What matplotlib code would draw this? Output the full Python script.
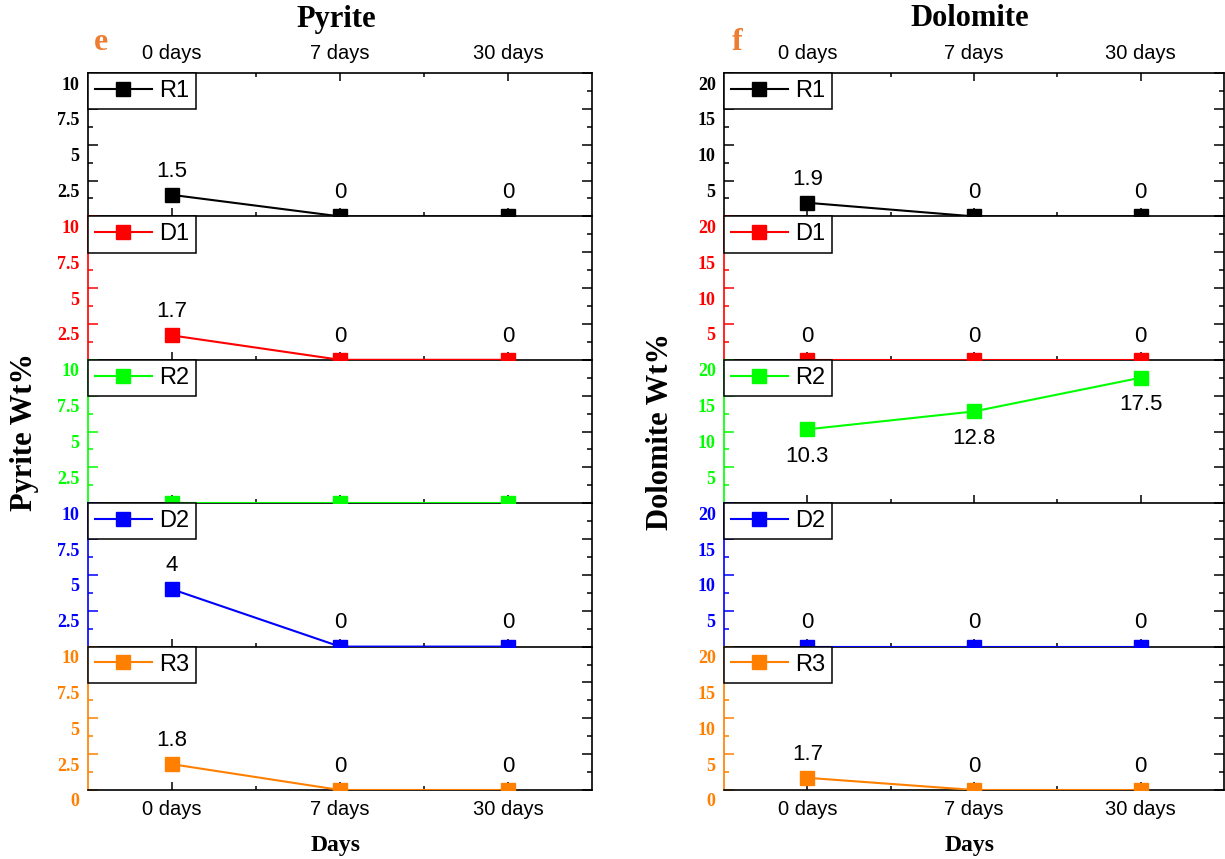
import numpy as np
import matplotlib
matplotlib.use('Agg')
import matplotlib.pyplot as plt
from matplotlib.ticker import FixedLocator, FuncFormatter
from matplotlib.transforms import ScaledTranslation

# ---------------- data ----------------
days = ['0 days', '7 days', '30 days']
series_names = ['R1', 'D1', 'R2', 'D2', 'R3']
series_colors = ['#000000', '#FF0000', '#00FF00', '#0000FF', '#FF8000']

pyrite_R1 = [1.5, 0, 0]
pyrite_D1 = [1.7, 0, 0]
pyrite_R2 = [0, 0, 0]
pyrite_D2 = [4, 0, 0]
pyrite_R3 = [1.8, 0, 0]

dolomite_R1 = [1.9, 0, 0]
dolomite_D1 = [0, 0, 0]
dolomite_R2 = [10.3, 12.8, 17.5]
dolomite_D2 = [0, 0, 0]
dolomite_R3 = [1.7, 0, 0]

pyrite_ticks = [0, 2.5, 5, 7.5, 10]
dolomite_ticks = [0, 5, 10, 15, 20]

# value-label placement per series (style)
pyrite_label_pos = ['above', 'above', None, 'above', 'above']
dolomite_label_pos = ['above', 'above', 'below', 'above', 'above']

# ---------------- style ----------------
W, H = 1225, 859
SERIF = 'Liberation Serif'
SANS = 'Liberation Sans'
LETTER_COLOR = '#ED7D31'

fig = plt.figure(figsize=(W / 100, H / 100), dpi=100)
fig.patch.set_facecolor('white')


def fx(px):
    return px / W


def fy(py):
    return 1 - py / H


def fmt_val(v):
    return f'{v:g}'


def draw_panel(x0, x1, series, yticks, title, letter, ylabel, label_pos):
    top, bottom = 73, 790
    rh = (bottom - top) / len(series)
    x = np.arange(len(days))
    ymax = yticks[-1]
    ystep = yticks[1] - yticks[0]
    minor = list(np.arange(ystep / 2, ymax, ystep))
    off = ScaledTranslation(0, -10 / 100, fig.dpi_scale_trans)
    n = len(series)
    for i, (vals, name, c, lp) in enumerate(zip(series, series_names, series_colors, label_pos)):
        yt = top + i * rh
        ax = fig.add_axes([fx(x0), fy(yt + rh), fx(x1 - x0), rh / H])
        ax.set_facecolor('none')
        ax.plot(x, vals, color=c, lw=1.5, marker='s', ms=10, mfc=c, mec=c,
                zorder=3, label=name)
        ax.set_xlim(-0.5, 2.5)
        ax.set_ylim(0, ymax)
        ax.xaxis.set_major_locator(FixedLocator(list(x)))
        ax.xaxis.set_minor_locator(FixedLocator([0.5, 1.5]))
        ax.set_xticklabels(days)
        ax.yaxis.set_major_locator(FixedLocator(yticks))
        ax.yaxis.set_minor_locator(FixedLocator(minor))
        last = (i == n - 1)
        ax.yaxis.set_major_formatter(FuncFormatter(
            lambda v, p, last=last: (fmt_val(v) if (v != 0 or last) else '')))
        ax.tick_params(axis='x', which='both', direction='in', top=(i == 0), bottom=True,
                       labeltop=(i == 0), labelbottom=last, width=1.1, pad=7)
        ax.tick_params(axis='x', which='major', length=5.8)
        ax.tick_params(axis='x', which='minor', length=3.2)
        ax.tick_params(axis='y', which='both', direction='in', left=True, right=True,
                       labelleft=True, width=1.1, color=c, labelcolor=c, pad=6)
        ax.tick_params(axis='y', which='major', length=7.2)
        ax.tick_params(axis='y', which='minor', length=3.6)
        for lbl in ax.get_xticklabels():
            lbl.set_fontfamily(SANS)
            lbl.set_fontsize(14.5)
        for t in ax.yaxis.get_major_ticks() + ax.yaxis.get_minor_ticks():
            t.tick2line.set_color('black')
            t.tick2line.set_markeredgecolor('black')
            t.label1.set_transform(t.label1.get_transform() + off)
            t.label1.set_fontfamily(SERIF)
            t.label1.set_fontweight('bold')
            t.label1.set_fontsize(13)
        for s in ['top', 'bottom', 'right']:
            ax.spines[s].set_color('black')
            ax.spines[s].set_linewidth(1.2)
        ax.spines['left'].set_color(c)
        ax.spines['left'].set_linewidth(1.2)
        if i > 0:
            ax.spines['top'].set_visible(False)
        if lp is not None:
            for xi, v in zip(x, vals):
                dy = 17 if lp == 'above' else -19.5
                ax.annotate(fmt_val(v), (xi, v), xytext=(0, dy), textcoords='offset points',
                            ha='center', va='center', fontsize=16, family=SANS,
                            color='black', annotation_clip=False, zorder=4)
        leg = ax.legend(loc='upper left', borderaxespad=0, frameon=True, fancybox=False,
                        edgecolor='black', framealpha=1, numpoints=1,
                        prop=dict(family=SANS, size=17), handlelength=2.4,
                        handletextpad=0.3, borderpad=0.3)
        leg.get_frame().set_linewidth(1.1)
    cx = (x0 + x1) / 2 - 4
    fig.text(fx(cx), fy(19), title, ha='center', va='center', fontsize=22,
             family=SERIF, weight='bold')
    fig.text(fx(x0 + 13), fy(42), letter, ha='center', va='center', fontsize=23,
             family=SERIF, weight='bold', color=LETTER_COLOR)
    fig.text(fx(cx), fy(845), 'Days', ha='center', va='center', fontsize=17,
             family=SERIF, weight='bold')
    fig.text(fx(x0 - 63), fy(432), ylabel, ha='center', va='center', fontsize=22,
             family=SERIF, weight='bold', rotation=90)


draw_panel(88, 592, [pyrite_R1, pyrite_D1, pyrite_R2, pyrite_D2, pyrite_R3],
           pyrite_ticks, 'Pyrite', 'e', 'Pyrite Wt%', pyrite_label_pos)
draw_panel(724, 1224, [dolomite_R1, dolomite_D1, dolomite_R2, dolomite_D2, dolomite_R3],
           dolomite_ticks, 'Dolomite', 'f', 'Dolomite Wt%', dolomite_label_pos)

fig.savefig('out.png', dpi=100, facecolor='white')
